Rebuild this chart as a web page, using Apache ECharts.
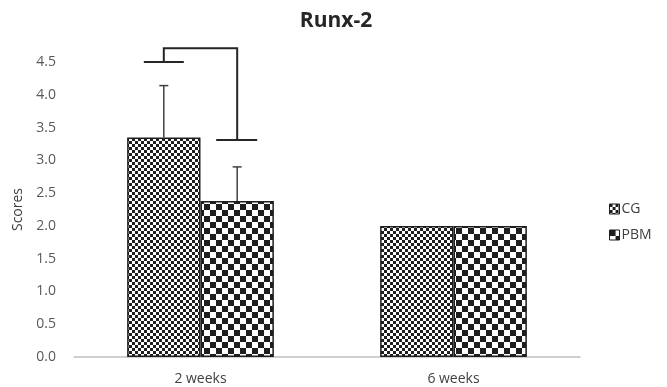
<!DOCTYPE html>
<html>
<head>
<meta charset="utf-8">
<script src="https://cdn.jsdelivr.net/npm/echarts@6/dist/echarts.min.js"></script>
<style>html,body{margin:0;padding:0;background:#fff;}#c{width:667px;height:387px;}</style>
</head>
<body>
<div id="c"></div>
<script>
var categories = ['2 weeks', '6 weeks'];
var seriesNames = ['CG', 'PBM'];
var cgValues = [3.35, 2.0];
var pbmValues = [2.38, 2.0];
var cgErrors = [0.79, 0];
var pbmErrors = [0.52, 0];
var yTicks = [0, 0.5, 1.0, 1.5, 2.0, 2.5, 3.0, 3.5, 4.0, 4.5];
// significance bracket levels (value units): left foot, top, right foot
var bracketLeft = [4.5];
var bracketTop = [4.71];
var bracketRight = [3.31];

function checker(cell, dark) {
  var c = document.createElement('canvas');
  c.width = cell * 2; c.height = cell * 2;
  var ctx = c.getContext('2d');
  ctx.fillStyle = '#ffffff';
  ctx.fillRect(0, 0, cell * 2, cell * 2);
  ctx.fillStyle = dark;
  ctx.fillRect(0, 0, cell, cell);
  ctx.fillRect(cell, cell, cell, cell);
  return c;
}
var cgPattern = { image: checker(3, '#1e1e1e'), repeat: 'repeat' };
var pbmPattern = { image: checker(6, '#1e1e1e'), repeat: 'repeat' };

var GAP = 0.42;
function barOffset(api, sIdx) {
  var band = api.size([1, 0])[0];
  var w = band * (1 - GAP) / 2;
  return (sIdx === 0 ? -1 : 1) * w / 2;
}

var errData = [];
for (var i = 0; i < categories.length; i++) {
  errData.push([i, cgValues[i], cgErrors[i], 0]);
  errData.push([i, pbmValues[i], pbmErrors[i], 1]);
}

var chart = echarts.init(document.getElementById('c'), null, {renderer: 'canvas'});
var font = '"Open Sans", sans-serif';
chart.setOption({
  animation: false,
  title: {
    text: 'Runx-2', left: 331, top: 6, textAlign: 'center',
    textStyle: { fontFamily: font, fontWeight: 'bold', fontSize: 21, color: '#262626' }
  },
  legend: {
    orient: 'vertical', left: 604, top: 197, itemWidth: 10, itemHeight: 10, itemGap: 12,
    icon: 'rect',
    data: seriesNames,
    textStyle: { fontFamily: font, fontSize: 14, color: '#404040', padding: [0, 0, 0, -3] },
    itemStyle: { borderWidth: 1, borderColor: '#1e1e1e' }
  },
  grid: { left: 74, right: 87, top: 62, bottom: 30 },
  xAxis: {
    type: 'category', data: categories,
    axisLine: { lineStyle: { color: '#bfbfbf', width: 1.5 } },
    axisTick: { show: false },
    axisLabel: { fontFamily: font, fontSize: 14, color: '#404040', margin: 15 }
  },
  yAxis: {
    type: 'value', min: 0, max: 4.5, interval: 0.5,
    name: 'Scores', nameLocation: 'middle', nameGap: 47, nameRotate: 90,
    nameTextStyle: { fontFamily: font, fontSize: 14, color: '#404040' },
    axisLine: { show: false }, axisTick: { show: false }, splitLine: { show: false },
    axisLabel: {
      fontFamily: font, fontSize: 14, color: '#595959', margin: 18,
      formatter: function (v) { return v.toFixed(1); }
    }
  },
  series: [
    {
      name: 'CG', type: 'bar', data: cgValues, barGap: '0%', barCategoryGap: (GAP * 100) + '%',
      itemStyle: { color: cgPattern, borderColor: '#1e1e1e', borderWidth: 1.5 }
    },
    {
      name: 'PBM', type: 'bar', data: pbmValues, barGap: '0%', barCategoryGap: (GAP * 100) + '%',
      itemStyle: { color: pbmPattern, borderColor: '#1e1e1e', borderWidth: 1.5 }
    },
    {
      type: 'custom', silent: true, clip: false, z: 5,
      data: errData,
      renderItem: function (params, api) {
        var cat = api.value(0), mean = api.value(1), sd = api.value(2), s = api.value(3);
        if (!sd) return null;
        var off = barOffset(api, s);
        var p0 = api.coord([cat, mean]);
        var p1 = api.coord([cat, mean + sd]);
        var x = p0[0] + off;
        var st = { stroke: '#404040', lineWidth: 1.5, fill: null };
        return {
          type: 'group', children: [
            { type: 'line', shape: { x1: x, y1: p0[1], x2: x, y2: p1[1] }, style: st },
            { type: 'line', shape: { x1: x - 4.5, y1: p1[1], x2: x + 4.5, y2: p1[1] }, style: st }
          ]
        };
      }
    },
    {
      type: 'custom', silent: true, clip: false, z: 5,
      data: [[0, bracketLeft[0], bracketTop[0], bracketRight[0]]],
      renderItem: function (params, api) {
        var cat = api.value(0);
        var xl = api.coord([cat, 0])[0] + barOffset(api, 0);
        var xr = api.coord([cat, 0])[0] + barOffset(api, 1);
        var yl = api.coord([cat, api.value(1)])[1];
        var yt = api.coord([cat, api.value(2)])[1];
        var yr = api.coord([cat, api.value(3)])[1];
        var st = { stroke: '#262626', lineWidth: 2, fill: null };
        return {
          type: 'group', children: [
            { type: 'polyline', shape: { points: [[xl, yl], [xl, yt], [xr, yt], [xr, yr]] }, style: st },
            { type: 'line', shape: { x1: xl - 20, y1: yl, x2: xl + 20, y2: yl }, style: st },
            { type: 'line', shape: { x1: xr - 21, y1: yr, x2: xr + 20, y2: yr }, style: st }
          ]
        };
      }
    }
  ]
});
</script>
</body>
</html>
